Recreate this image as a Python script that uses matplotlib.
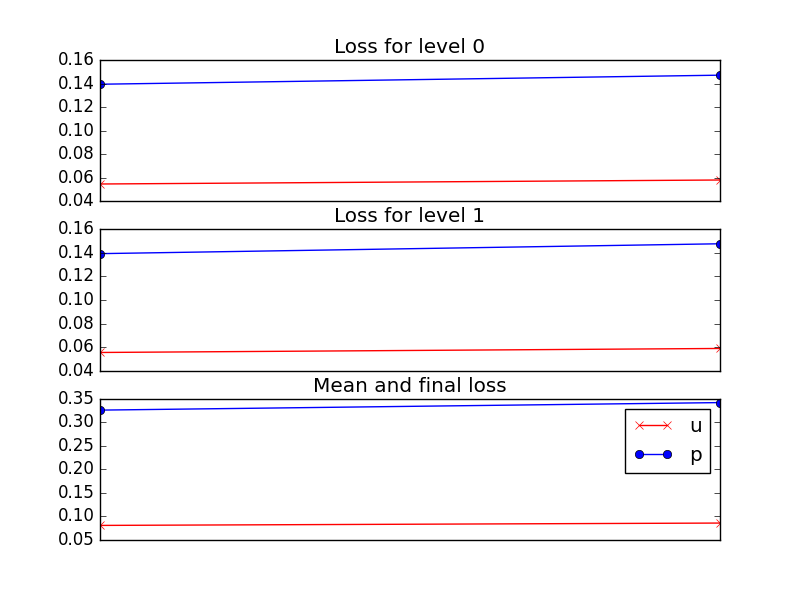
import matplotlib
matplotlib.use("Agg")
import matplotlib.pyplot as plt

plt.style.use("classic")

steps = [0, 1]
titles = ["Loss for level 0", "Loss for level 1", "Mean and final loss"]
u_loss = [
    [0.0546, 0.0580],
    [0.0554, 0.0588],
    [0.0810, 0.0860],
]
p_loss = [
    [0.1394, 0.1471],
    [0.1394, 0.1478],
    [0.3260, 0.3420],
]
y_limits = [(0.04, 0.16), (0.04, 0.16), (0.05, 0.35)]


def main():
    fig, axes = plt.subplots(3, 1, figsize=(8, 6), dpi=100)

    for ax, title, u, p, ylim in zip(axes, titles, u_loss, p_loss, y_limits):
        ax.plot(steps, u, "rx-", label="u")
        ax.plot(steps, p, "bo-", label="p")
        ax.set_title(title)
        ax.set_ylim(*ylim)
        ax.set_xticks([])

    axes[-1].legend(loc="upper right")

    fig.savefig("out.png")


if __name__ == "__main__":
    main()
